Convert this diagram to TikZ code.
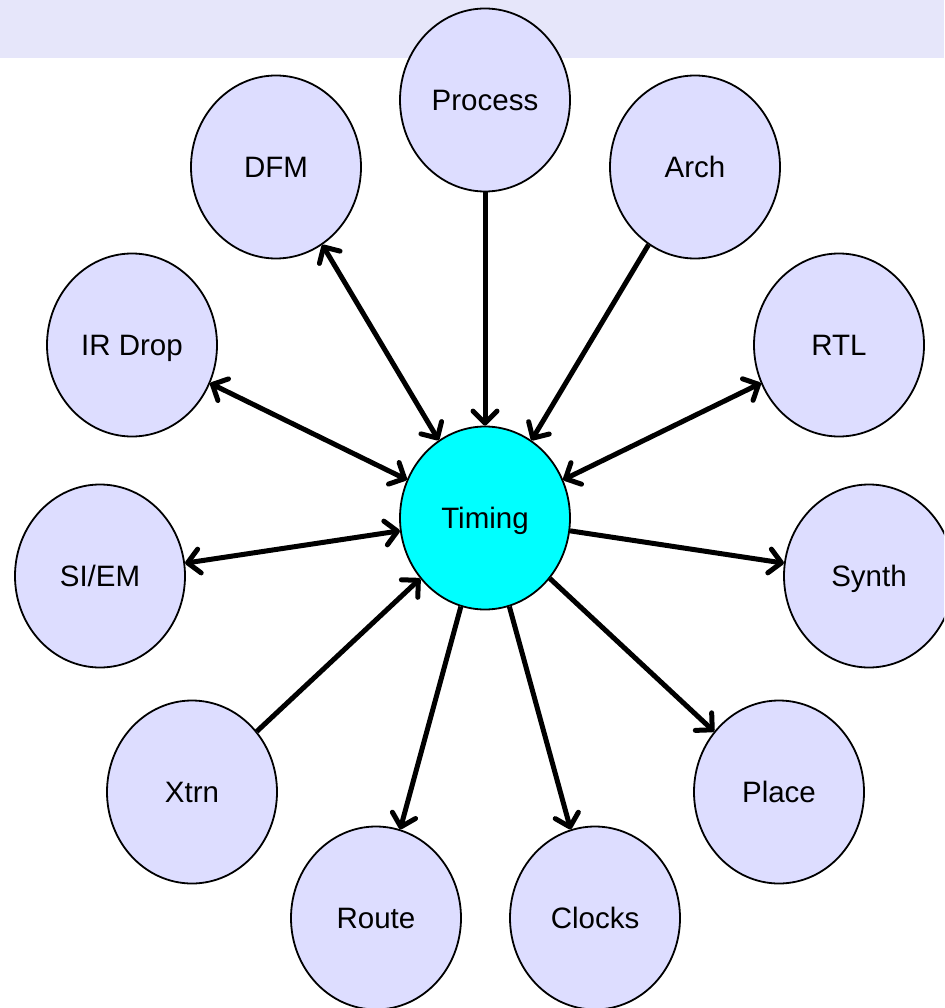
\documentclass[tikz,border=0pt]{standalone}
\usepackage{fontspec}
\setmainfont{Liberation Sans}
\usetikzlibrary{arrows.meta,shapes.geometric}
\definecolor{band}{HTML}{E6E6FA}
\definecolor{bubble}{HTML}{DDDDFF}
\definecolor{core}{HTML}{00FFFF}
\tikzset{
  topic/.style={draw=black,fill=#1,ellipse,line width=1.8pt,minimum width=170pt,minimum height=183pt,inner sep=0pt,text depth=0pt,font=\fontsize{29.5}{34}\selectfont},
  topic/.default=bubble,
  link/.style={line width=5pt,draw=black,-{Straight Barb[length=12pt,width=24pt,round]}},
  dual/.style={line width=5pt,draw=black,{Straight Barb[length=12pt,width=24pt,round]}-{Straight Barb[length=12pt,width=24pt,round]}}
}
\begin{document}
\begin{tikzpicture}[x=1pt,y=-1pt]
    \useasboundingbox (0,0) rectangle (944,1008);
    \clip (0,0) rectangle (944,1008);
    \fill[band] (0,0) rectangle (944,58);

    \node[topic=core] (timing) at (485,518) {Timing};
    \node[topic] (process) at (485,100) {Process};
    \node[topic] (dfm) at (276,167) {DFM};
    \node[topic] (arch) at (695,167) {Arch};
    \node[topic] (irdrop) at (132,345) {IR Drop};
    \node[topic] (rtl) at (839,345) {RTL};
    \node[topic] (siem) at (100,576) {SI/EM};
    \node[topic] (synth) at (869,576) {Synth};
    \node[topic] (xtrn) at (192,792) {Xtrn};
    \node[topic] (place) at (779,792) {Place};
    \node[topic] (route) at (376,918) {Route};
    \node[topic] (clocks) at (595,918) {Clocks};

    \draw[link] (process) -- (timing);
    \draw[link] (arch) -- (timing);
    \draw[link] (xtrn) -- (timing);
    \draw[dual] (dfm) -- (timing);
    \draw[dual] (irdrop) -- (timing);
    \draw[dual] (rtl) -- (timing);
    \draw[dual] (siem) -- (timing);
    \draw[link] (timing) -- (synth);
    \draw[link] (timing) -- (place);
    \draw[link] (timing) -- (route);
    \draw[link] (timing) -- (clocks);
\end{tikzpicture}
\end{document}
